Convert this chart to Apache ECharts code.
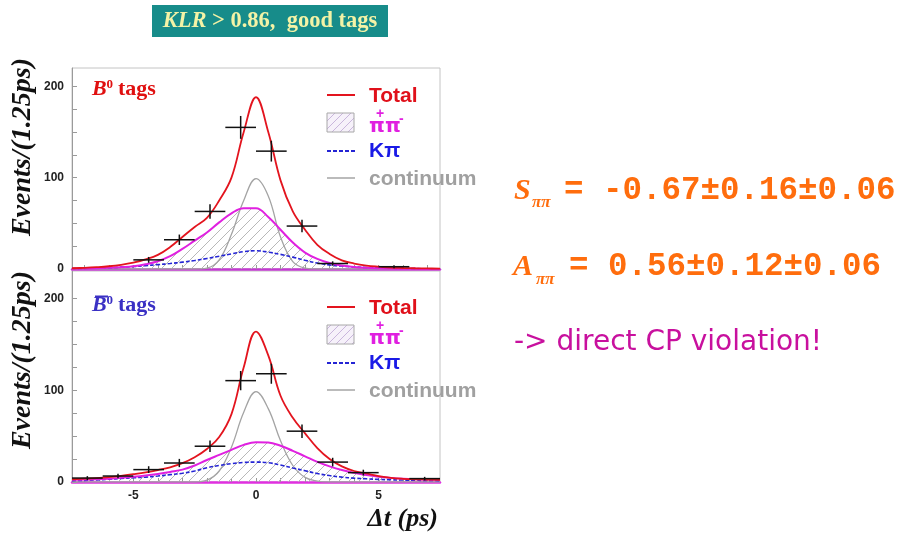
<!DOCTYPE html>
<html><head><meta charset="utf-8">
<script src="https://cdn.jsdelivr.net/npm/echarts@6/dist/echarts.min.js"></script>
<style>html,body{margin:0;padding:0;background:#fff}#c{width:899px;height:533px}</style>
</head><body><div id="c"></div>
<script>
// ---- data ----
const dtGrid = [-7.5,-7,-6.5,-6,-5.5,-5,-4.5,-4,-3.5,-3,-2.5,-2,-1.5,-1,-0.5,0,0.5,1,1.5,2,2.5,3,3.5,4,4.5,5,5.5,6,6.5,7,7.5];
// B0 tags
const upTotal  = [0.8,1.3,2,3,4.6,7,10.5,15.5,24,35,46,56,75,100,150,188,150,97,63,43,26.5,16.5,9.5,6,3.8,2.5,1.5,1.1,0.8,0.6,0.5];
const upSignal = [0.3,0.5,0.8,1.3,2,3,5.2,8.5,14,22,31,40,51,61,66.5,66.5,57,43,29,18,11,6.5,3.8,2.2,1.3,0.8,0.5,0.3,0.2,0.1,0.1];
const upKpi    = [0.5,0.7,1,1.4,2,2.7,3.7,4.8,6,7.5,9.3,11.5,14,16.5,19,20,18.5,16,13,9.5,6.5,4.5,3.2,2.3,1.6,1.1,0.8,0.6,0.4,0.3,0.2];
const upCont   = [0,0,0,0,0,0,0,0,0,0,0,1,10,38,75,99,80,35,8,1,0,0,0,0,0,0,0,0,0,0,0];
// B0-bar tags
const lowTotal  = [3,3.6,4.3,5.3,6.7,8.5,10.5,13,16,20.5,27,36,49,74,125,164,138,94,70,53,37,25,17,12,9.3,6.5,4.5,3.5,3,2.6,2.3];
const lowSignal = [2.4,2.6,3,3.6,4.5,5.6,7,8.8,11,13.5,18,24,29.5,35,40.5,43.3,43,39.5,34,28,22,17,13,10,7.6,5.8,4.5,3.6,3,2.6,2.4];
const lowKpi    = [1.5,1.8,2.3,3,3.8,4.6,5.3,6.5,8,9.5,12,15.5,18,20,21.3,21.7,21,18.5,15.3,12.3,9.2,7,5.3,4.2,3.5,2.9,2.4,2.1,1.9,1.7,1.5];
const lowCont   = [0,0,0,0,0,0,0,0,0,0,0,2,12,38,76,98.5,80,45,18,5,1,0,0,0,0,0,0,0,0,0,0];
// binned data (1.25 ps bins)
const binCenters = [-6.875,-5.625,-4.375,-3.125,-1.875,-0.625,0.625,1.875,3.125,4.375,5.625,6.875];
const binHalfWidth = 0.625;
const upCounts  = [null,null,10,32,63,155,129,47,6,null,2.5,null];
const upErrors  = [null,null,3.2,5.7,8,12.5,11.4,6.9,2.4,null,1.6,null];
const lowCounts = [4.3,6.5,13.5,20.7,39,110.5,118,55.4,21.7,10.2,null,3.7];
const lowErrors = [2.1,2.5,3.7,4.5,6.2,10.5,10.9,7.4,4.7,3.2,null,1.9];
// ticks
const xLabelVals = [-5,0,5];
const xTickVals = [-7,-6,-5,-4,-3,-2,-1,0,1,2,3,4,5,6,7];
const yLabelVals = [0,100,200];
const yTickVals = [0,25,50,75,100,125,150,175,200];

// ---- helpers ----
function hatch(color, bg, n){
  const c=document.createElement('canvas'); c.width=n; c.height=n;
  const g=c.getContext('2d');
  if(bg){g.fillStyle=bg; g.fillRect(0,0,n,n);}
  g.strokeStyle=color; g.lineWidth=1;
  g.beginPath();
  g.moveTo(0,n); g.lineTo(n,0);
  g.moveTo(-n/2,n/2); g.lineTo(n/2,-n/2);
  g.moveTo(n/2,n*1.5); g.lineTo(n*1.5,n/2);
  g.stroke();
  return c;
}
const areaHatch = {image: hatch('#b8b8b8', null, 10), repeat:'repeat'};
const legHatch = {image: hatch('#c9b6dc','#f6f1fa', 8), repeat:'repeat'};

const pts = arr => dtGrid.map((x,i)=>[x,arr[i]]);
const binPts = (c,e) => binCenters.map((x,i)=>c[i]==null?null:[x,c[i],e[i]]).filter(d=>d);

function crossRender(params, api){
  const x=api.value(0), y=api.value(1), e=api.value(2);
  const l=api.coord([x-binHalfWidth,y]), r=api.coord([x+binHalfWidth,y]);
  const t=api.coord([x,y+e]), b=api.coord([x,Math.max(0,y-e)]);
  const st={stroke:'#111', lineWidth:1.5};
  return {type:'group', children:[
    {type:'line', shape:{x1:l[0],y1:l[1],x2:r[0],y2:r[1]}, style:st},
    {type:'line', shape:{x1:t[0],y1:t[1],x2:b[0],y2:b[1]}, style:st}
  ]};
}

const RED='#e3141e', MAG='#e020e0', BLUE='#2424d4', GRAY='#a4a4a4';

function panelSeries(gi, total, signal, kpi, cont, counts, errs){
  const base={xAxisIndex:gi, yAxisIndex:gi, showSymbol:false, smooth:0.4, silent:true};
  return [
    Object.assign({type:'line', name:'ππ area', data:pts(signal), lineStyle:{width:0}, areaStyle:{color:areaHatch, opacity:1}, z:1}, base),
    Object.assign({type:'line', name:'continuum', data:pts(cont), lineStyle:{color:GRAY, width:1.3}, z:2}, base),
    Object.assign({type:'line', name:'Kπ', data:pts(kpi), lineStyle:{color:BLUE, width:1.6, type:[4,2]}, z:3}, base),
    Object.assign({type:'line', name:'π+π-', data:pts(signal), lineStyle:{color:MAG, width:2}, z:4}, base),
    Object.assign({type:'line', name:'Total', data:pts(total), lineStyle:{color:RED, width:1.8}, z:5}, base),
    {type:'custom', xAxisIndex:gi, yAxisIndex:gi, renderItem:crossRender, data:binPts(counts,errs), encode:{x:0,y:1}, z:6, silent:true}
  ];
}

function xAxisDef(gi, showLabels, lineColor){
  return {type:'value', gridIndex:gi, min:-7.5, max:7.5,
    axisLine:{show:true, onZero:false, lineStyle:{color:lineColor, width:2.5}},
    axisTick:{show:true, inside:true, length:4, customValues:xTickVals, lineStyle:{color:'#999'}},
    axisLabel:{show:showLabels, customValues:xLabelVals, margin:8, color:'#222', fontWeight:'bold', fontSize:12, fontFamily:'Liberation Sans'},
    splitLine:{show:false}};
}
function yAxisDef(gi, max){
  return {type:'value', gridIndex:gi, min:0, max:max,
    axisLine:{show:true, onZero:false, lineStyle:{color:'#9a9a9a', width:1}},
    axisTick:{show:true, inside:true, length:5, customValues:yTickVals, lineStyle:{color:'#9a9a9a'}},
    axisLabel:{customValues:yLabelVals, margin:8, color:'#222', fontWeight:'bold', fontSize:12, fontFamily:'Liberation Sans'},
    splitLine:{show:false}};
}

function txt(x,y,text,font,fill,align,extra){
  return Object.assign({type:'text', x:x, y:y, silent:true,
    style:{text:text, font:font, fill:fill, align:align||'left', textAlign:align||'left', verticalAlign:'middle', textVerticalAlign:'middle'}}, extra||{});
}
const LF='bold 21px "Liberation Sans"';
const PF='bold 20px "DejaVu Sans"';
function legend(dy){
  return [
    {type:'line', shape:{x1:327,y1:95+dy,x2:355,y2:95+dy}, style:{stroke:RED, lineWidth:2}, silent:true},
    txt(369,96+dy,'Total',LF,'#e0101a'),
    {type:'rect', shape:{x:327,y:113+dy,width:27,height:19}, style:{fill:legHatch, stroke:'#a8a8a8', lineWidth:1}, silent:true},
    txt(369,127+dy,'π',PF,MAG),
    txt(376,114+dy,'+','bold 14px "Liberation Sans"',MAG),
    txt(385,127+dy,'π',PF,MAG),
    txt(399,119+dy,'-','bold 14px "Liberation Sans"',MAG),
    {type:'line', shape:{x1:327,y1:151+dy,x2:355,y2:151+dy}, style:{stroke:BLUE, lineWidth:1.8, lineDash:[4,2]}, silent:true},
    txt(369,151+dy,'Kπ',LF,'#1a1ae6'),
    {type:'line', shape:{x1:327,y1:178+dy,x2:355,y2:178+dy}, style:{stroke:GRAY, lineWidth:1.5}, silent:true},
    txt(369,179+dy,'continuum',LF,'#a0a0a0')
  ];
}

const ORANGE='#ff6d0d', PURP='#c8109e';
const graphic = [
  {type:'rect', shape:{x:152,y:5,width:236,height:32}, style:{fill:'#178c8a'}, silent:true},
  {type:'text', x:270, y:21.5, silent:true, style:{text:'{i|KLR}{n| > 0.86,  good tags}', fill:'#f4f3a6', align:'center', textAlign:'center', verticalAlign:'middle', textVerticalAlign:'middle',
    rich:{i:{font:'italic bold 22.5px "Liberation Serif"', fill:'#f4f3a6'}, n:{font:'bold 22.5px "Liberation Serif"', fill:'#f4f3a6'}}}},
  // y titles
  txt(22.5,147,'Events/(1.25ps)','italic bold 28px "Liberation Serif"','#111','center',{rotation:Math.PI/2}),
  txt(22.5,360,'Events/(1.25ps)','italic bold 28px "Liberation Serif"','#111','center',{rotation:Math.PI/2}),
  // x title
  txt(438,519,'Δt (ps)','italic bold 26px "Liberation Serif"','#111','right'),
  // panel labels
  txt(92,89,'B','italic bold 22px "Liberation Serif"','#e01010'),
  txt(106.5,85,'0','bold 13px "Liberation Serif"','#e01010'),
  txt(118,89,'tags','bold 22px "Liberation Serif"','#e01010'),
  {type:'line', shape:{x1:95,y1:296.5,x2:108,y2:296.5}, style:{stroke:'#3a30c4', lineWidth:2}, silent:true},
  txt(92,305,'B','italic bold 22px "Liberation Serif"','#3a30c4'),
  txt(106.5,301,'0','bold 13px "Liberation Serif"','#3a30c4'),
  txt(118,305,'tags','bold 22px "Liberation Serif"','#3a30c4'),
  // right-hand results
  txt(514,191,'S','italic bold 30px "Liberation Serif"',ORANGE),
  txt(532,203,'ππ','italic bold 17px "Liberation Serif"',ORANGE),
  txt(564,191,'= -0.67±0.16±0.06','bold 32.5px "Liberation Mono"',ORANGE),
  txt(513,267,'A','italic bold 30px "Liberation Serif"',ORANGE),
  txt(536,280,'ππ','italic bold 17px "Liberation Serif"',ORANGE),
  txt(569,267,'= 0.56±0.12±0.06','bold 32.5px "Liberation Mono"',ORANGE),
  txt(514,343,'-> direct CP violation!','28px "DejaVu Sans"',PURP)
].concat(legend(0), legend(212));

const option = {
  animation:false,
  backgroundColor:'#fff',
  grid:[
    {left:72, top:68, width:368, height:201, show:true, borderColor:'#c4c4c4', borderWidth:1},
    {left:72, top:271, width:368, height:211, show:true, borderColor:'#c4c4c4', borderWidth:1}
  ],
  xAxis:[xAxisDef(0,false,'#c23ad0'), xAxisDef(1,true,'#e030e0')],
  yAxis:[yAxisDef(0,220), yAxisDef(1,230)],
  series:[].concat(
    panelSeries(0, upTotal, upSignal, upKpi, upCont, upCounts, upErrors),
    panelSeries(1, lowTotal, lowSignal, lowKpi, lowCont, lowCounts, lowErrors)
  ),
  graphic:graphic
};
const chart = echarts.init(document.getElementById('c'), null, {renderer:'canvas'});
chart.setOption(option);
</script></body></html>
